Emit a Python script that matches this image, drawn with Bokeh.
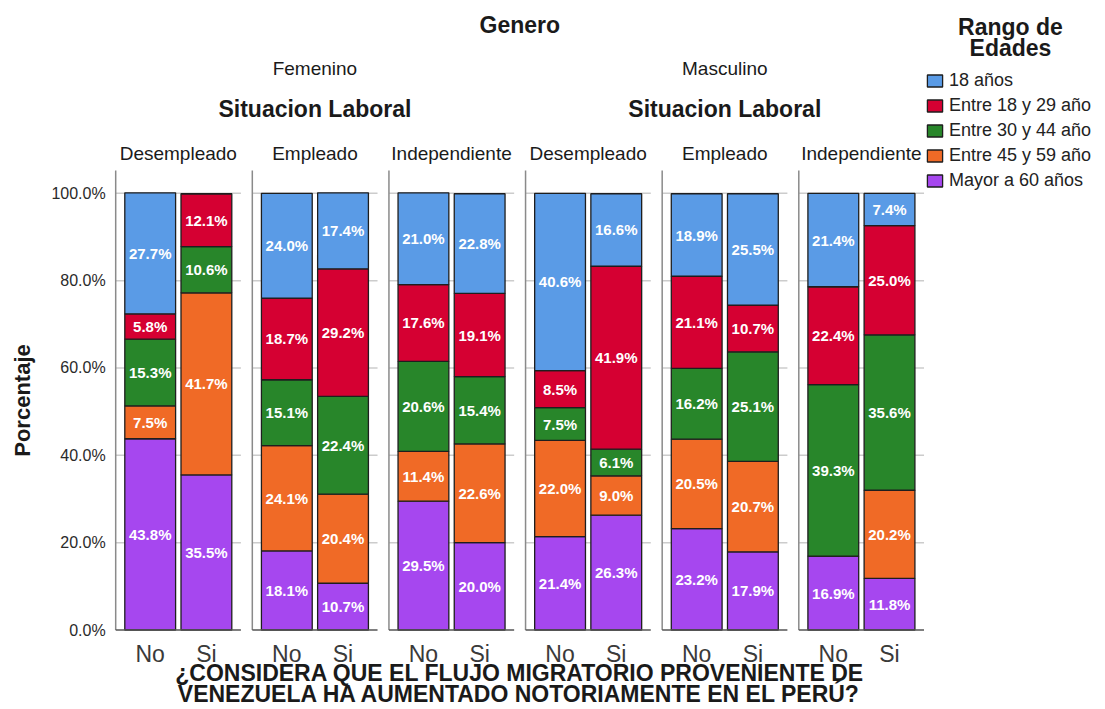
import math
from bokeh.plotting import figure
from bokeh.models import Range1d, FixedTicker, ColumnDataSource, Legend, LegendItem
from bokeh.core.properties import value
from bokeh.embed import file_html
from bokeh.resources import INLINE

# ---------------- data ----------------
generos = ["Femenino", "Masculino"]
situaciones = ["Desempleado", "Empleado", "Independiente"]
respuestas = ["No", "Si"]
# legend order (top of stack first)
rangos = ["18 años", "Entre 18 y 29 año", "Entre 30 y 44 año", "Entre 45 y 59 año", "Mayor a 60 años"]
# 12 bars: Femenino (Desempleado No/Si, Empleado No/Si, Independiente No/Si), then Masculino
anos_18     = [27.7, 0.0, 24.0, 17.4, 21.0, 22.8, 40.6, 16.6, 18.9, 25.5, 21.4, 7.4]
entre_18_29 = [5.8, 12.1, 18.7, 29.2, 17.6, 19.1, 8.5, 41.9, 21.1, 10.7, 22.4, 25.0]
entre_30_44 = [15.3, 10.6, 15.1, 22.4, 20.6, 15.4, 7.5, 6.1, 16.2, 25.1, 39.3, 35.6]
entre_45_59 = [7.5, 41.7, 24.1, 20.4, 11.4, 22.6, 22.0, 9.0, 20.5, 20.7, 0.0, 20.2]
mayor_60    = [43.8, 35.5, 18.1, 10.7, 29.5, 20.0, 21.4, 26.3, 23.2, 17.9, 16.9, 11.8]
y_ticks = [0, 20, 40, 60, 80, 100]
y_tick_labels = ["0.0%", "20.0%", "40.0%", "60.0%", "80.0%", "100.0%"]
titulo_x = ["¿CONSIDERA QUE EL FLUJO MIGRATORIO PROVENIENTE DE",
            "VENEZUELA HA AUMENTADO NOTORIAMENTE EN EL PERÚ?"]
colores = {"18 años": "#5a9be6", "Entre 18 y 29 año": "#d50032", "Entre 30 y 44 año": "#28862a",
           "Entre 45 y 59 año": "#f06a26", "Mayor a 60 años": "#a647ef"}
series = {"18 años": anos_18, "Entre 18 y 29 año": entre_18_29, "Entre 30 y 44 año": entre_30_44,
          "Entre 45 y 59 año": entre_45_59, "Mayor a 60 años": mayor_60}

# ---------------- layout ----------------
FONT = "Liberation Sans"
W, H = 1105, 709
PX = 56.2          # px per x unit
PY = 4.367         # px per percentage point
Y0 = 629.5         # px of the 0 % line
X_START = -149.7 / PX
P = 2.431          # panel stride (x units)
BAR_W = 0.904
SEP = 0.614


def xdata(px):
    return X_START + px / PX


def ydata(py):
    return (Y0 - py) / PY


p = figure(width=W, height=H, output_backend="svg", toolbar_location=None,
           x_range=Range1d(X_START, X_START + W / PX),
           y_range=Range1d(-(H - Y0) / PY, Y0 / PY),
           min_border_left=0, min_border_right=0, min_border_top=0, min_border_bottom=0)
p.title.visible = False
p.outline_line_color = None
p.xgrid.visible = False
p.ygrid.visible = False

n_s = len(situaciones)
n_r = len(respuestas)
xs, xlabels, panels = [], [], []
for gi in range(len(generos)):
    for si in range(n_s):
        k = gi * n_s + si
        panels.append(k * P)
        for ri in range(n_r):
            xs.append(round(k * P + ri, 4))
            xlabels.append(respuestas[ri])

# panel gridlines
gx0, gx1, gy = [], [], []
for c in panels:
    for t in y_ticks[1:]:
        gx0.append(c - SEP)
        gx1.append(c + 1 + SEP)
        gy.append(t)
p.segment(x0=gx0, x1=gx1, y0=gy, y1=gy, line_color="#cccccc", line_width=1.5)

# stacked bars (bottom -> top)
renderers = {}
bottom = [0.0] * len(xs)
for name in reversed(rangos):
    vals = series[name]
    top = [b + v for b, v in zip(bottom, vals)]
    src = ColumnDataSource(dict(x=xs, bottom=bottom, top=top))
    r = p.vbar(x="x", width=BAR_W, bottom="bottom", top="top", source=src,
               fill_color=colores[name], line_color="#1e1e1e", line_width=1.3)
    renderers[name] = r
    lx, ly, lt = [], [], []
    for x, b, v in zip(xs, bottom, vals):
        if v > 0:
            lx.append(x)
            ly.append(b + v / 2)
            lt.append(f"{v:.1f}%")
    p.text(x=lx, y=ly, text=lt, text_color="white", text_font=value(FONT),
           text_font_style="bold", text_font_size="15px", text_align="center",
           text_baseline="middle")
    bottom = top

# panel separators and baselines
p.segment(x0=[c - SEP for c in panels], x1=[c - SEP for c in panels],
          y0=[0] * len(panels), y1=[ydata(170)] * len(panels),
          line_color="#8a8a8a", line_width=1.5)
p.segment(x0=[c - SEP for c in panels], x1=[c + 1 + SEP for c in panels],
          y0=[0] * len(panels), y1=[0] * len(panels),
          line_color="#555555", line_width=1.5)

# header texts
hdr = dict(text_font=value(FONT), text_align="center", text_baseline="middle", text_color="#1a1a1a")
p.text(x=[c + 0.5 for c in panels], y=[ydata(153)] * len(panels),
       text=[situaciones[i % n_s] for i in range(len(panels))], text_font_size="19px", **hdr)
gcent = [(panels[g * n_s] + panels[g * n_s + n_s - 1] + 1) / 2 for g in range(len(generos))]
p.text(x=gcent, y=[ydata(108)] * len(gcent), text=["Situacion Laboral"] * len(gcent),
       text_font_size="23px", text_font_style="bold", **hdr)
p.text(x=gcent, y=[ydata(68)] * len(gcent), text=generos, text_font_size="19px", **hdr)
allc = (panels[0] + panels[-1] + 1) / 2
p.text(x=[allc], y=[ydata(24)], text=["Genero"], text_font_size="23px", text_font_style="bold", **hdr)
p.text(x=[allc, allc], y=[ydata(672), ydata(693)], text=titulo_x,
       text_font_size="23px", text_font_style="bold", **hdr)
p.text(x=[xdata(1010)] * 2, y=[ydata(26), ydata(47.5)], text=["Rango de", "Edades"],
       text_font_size="23px", text_font_style="bold", **hdr)
p.text(x=[xdata(22)], y=[ydata(400)], text=["Porcentaje"], angle=math.pi / 2,
       text_font_size="22px", text_font_style="bold", **hdr)

# axes (drawn at fixed data locations inside the frame)
p.xaxis.ticker = FixedTicker(ticks=xs)
p.xaxis.major_label_overrides = {x: l for x, l in zip(xs, xlabels)}
p.xaxis.fixed_location = 0
p.xaxis.axis_line_color = None
p.xaxis.major_tick_line_color = None
p.xaxis.minor_tick_line_color = None
p.xaxis.major_label_text_font = FONT
p.xaxis.major_label_text_font_size = "23px"
p.xaxis.major_label_text_color = "#3a3a3a"
p.xaxis.major_label_standoff = 5

p.yaxis.ticker = FixedTicker(ticks=y_ticks)
p.yaxis.major_label_overrides = dict(zip(y_ticks, y_tick_labels))
p.yaxis.fixed_location = panels[0] - SEP
p.yaxis.axis_line_color = None
p.yaxis.major_tick_line_color = None
p.yaxis.minor_tick_line_color = None
p.yaxis.major_label_text_font = FONT
p.yaxis.major_label_text_font_size = "16px"
p.yaxis.major_label_text_color = "#2a2a2a"
p.yaxis.major_label_standoff = 4

legend = Legend(items=[LegendItem(label=nm, renderers=[renderers[nm]]) for nm in rangos],
                location=(925, H - 190.5),
                glyph_width=19, glyph_height=15, label_height=21, spacing=4,
                label_standoff=5, padding=0, margin=0,
                border_line_color=None, background_fill_alpha=0,
                label_text_font=FONT, label_text_font_size="18px", label_text_color="#222222")
p.add_layout(legend)

open("out.html", "w").write(file_html(p, INLINE))
